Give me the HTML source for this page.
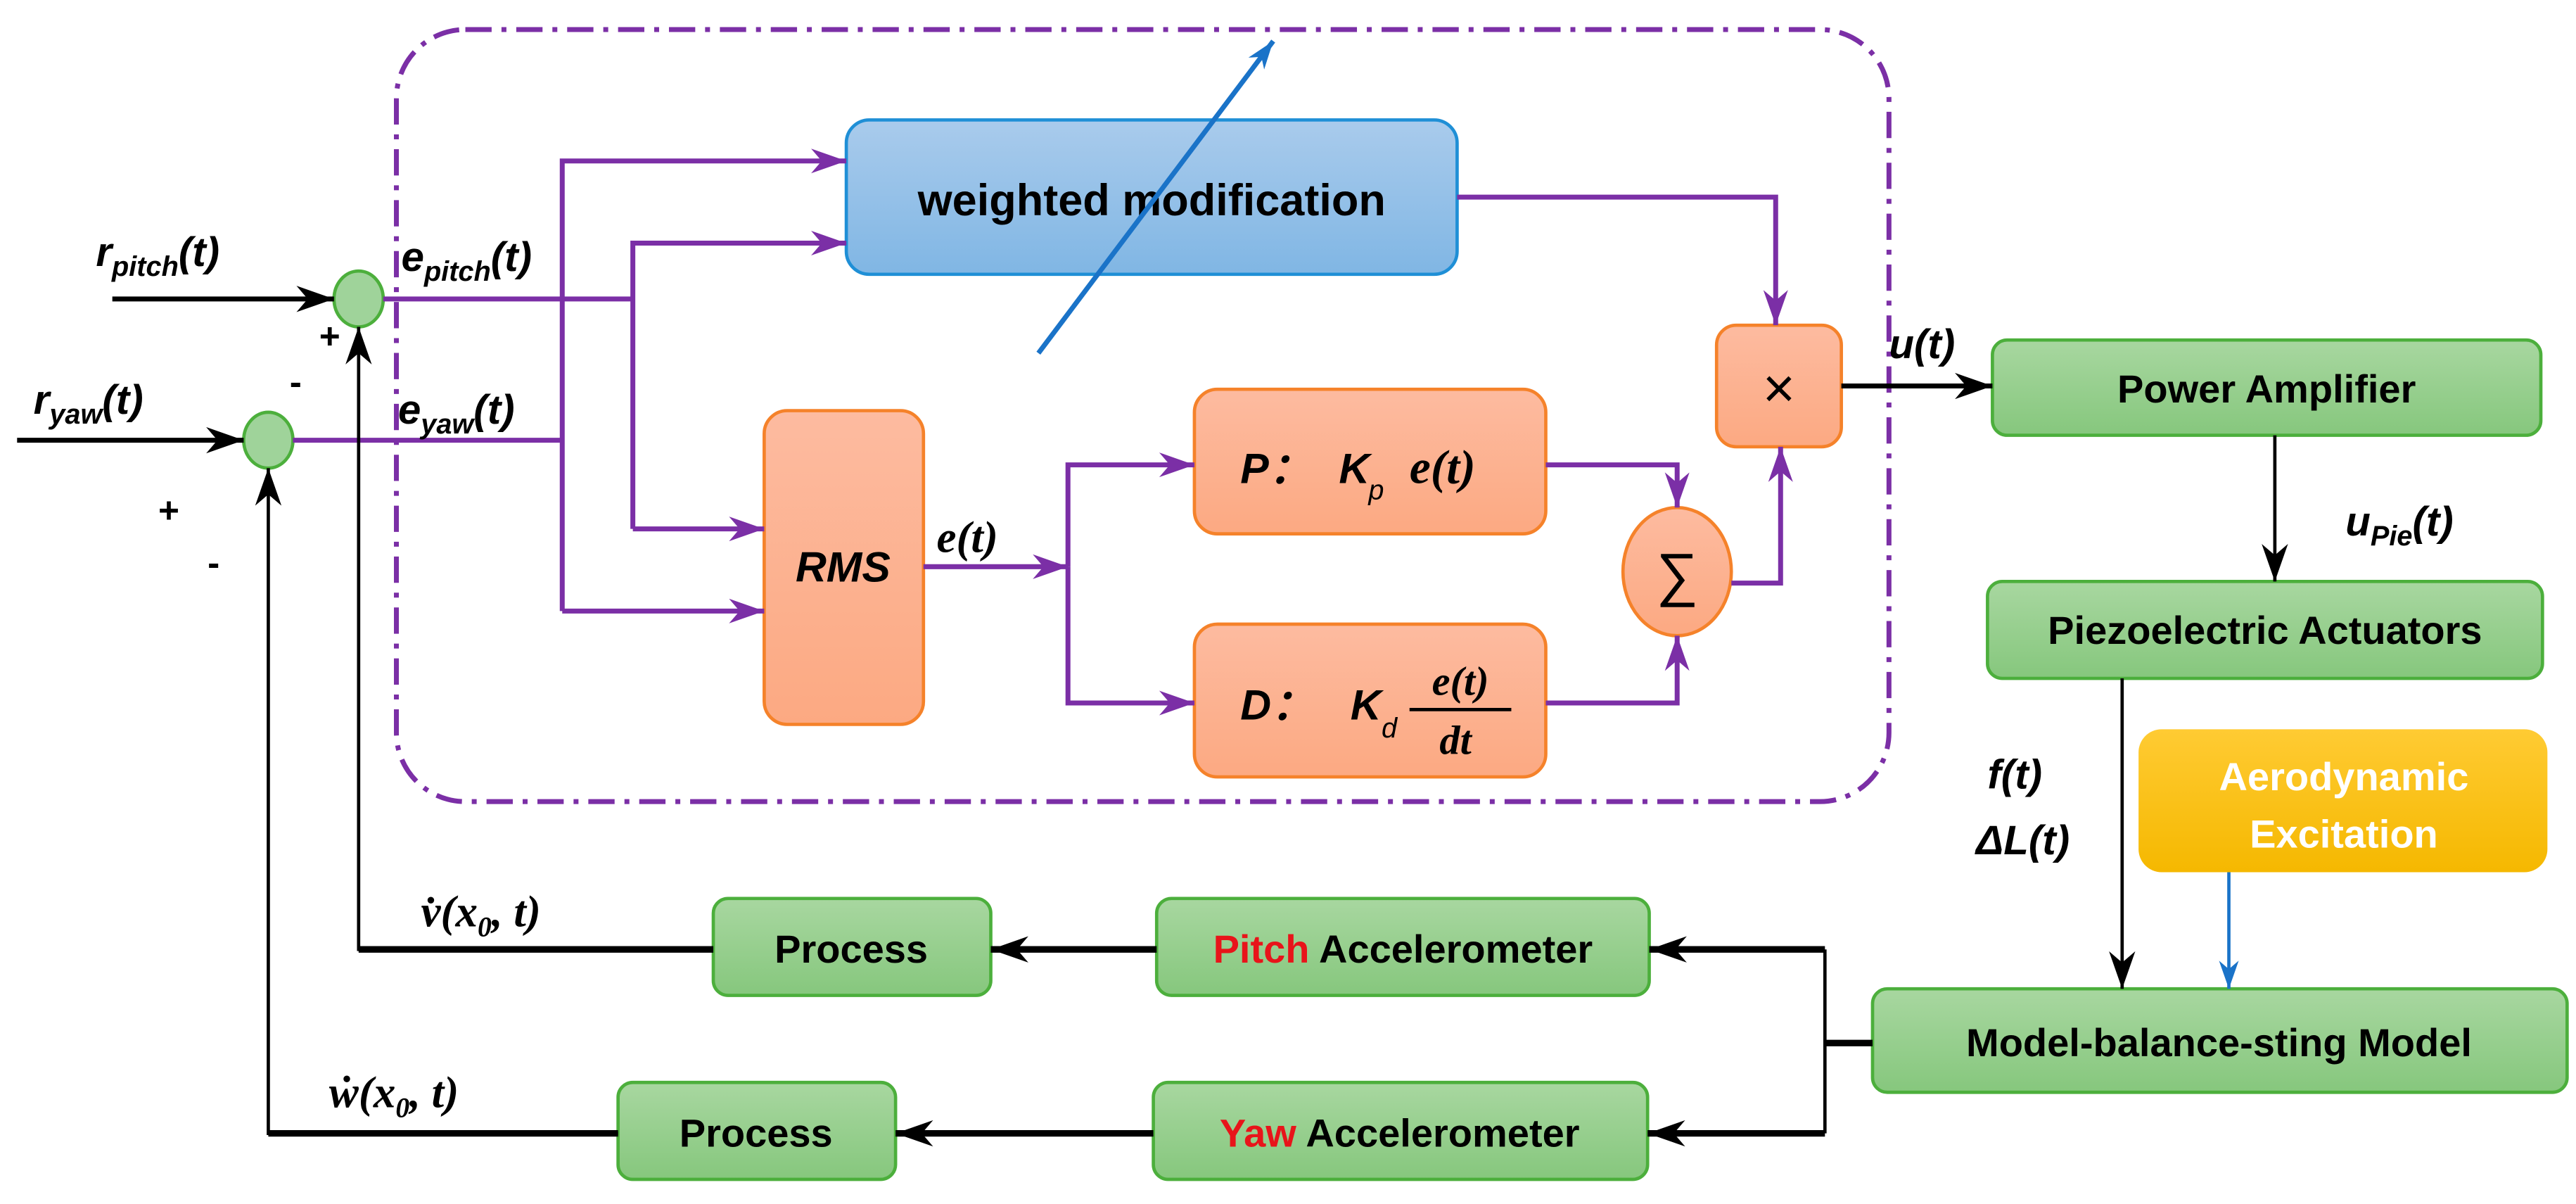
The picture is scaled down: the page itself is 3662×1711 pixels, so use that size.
<!DOCTYPE html>
<html><head><meta charset="utf-8"><style>html,body{margin:0;padding:0;background:#fff}svg{display:block}</style></head>
<body>
<svg width="3662" height="1711" viewBox="0 0 1568 733" xmlns="http://www.w3.org/2000/svg" font-family="'Liberation Sans',sans-serif">
<defs>
<linearGradient id="gb" x1="0" y1="0" x2="0" y2="1"><stop offset="0" stop-color="#a9cbec"/><stop offset="1" stop-color="#80b6e4"/></linearGradient>
<linearGradient id="go" x1="0" y1="0" x2="0" y2="1"><stop offset="0" stop-color="#fdbba0"/><stop offset="1" stop-color="#fca982"/></linearGradient>
<linearGradient id="gg" x1="0" y1="0" x2="0" y2="1"><stop offset="0" stop-color="#a8d7a0"/><stop offset="1" stop-color="#86c77d"/></linearGradient>
<linearGradient id="gy" x1="0" y1="0" x2="0" y2="1"><stop offset="0" stop-color="#ffcb33"/><stop offset="1" stop-color="#f5b800"/></linearGradient>
<marker id="ap" viewBox="0 0 20 14" refX="20" refY="7" markerWidth="22" markerHeight="15" markerUnits="userSpaceOnUse" orient="auto"><path d="M0,0 L20,7 L0,14 L6,7 Z" fill="#7b2fa6"/></marker>
<marker id="ak" viewBox="0 0 20 14" refX="20" refY="7" markerWidth="24" markerHeight="16" markerUnits="userSpaceOnUse" orient="auto"><path d="M0,0 L20,7 L0,14 L6,7 Z" fill="#000"/></marker>
<marker id="ab" viewBox="0 0 20 14" refX="20" refY="7" markerWidth="20" markerHeight="12" markerUnits="userSpaceOnUse" orient="auto"><path d="M0,0 L20,7 L0,14 L6,7 Z" fill="#1a73c8"/></marker>
</defs>

<rect x="241" y="18" width="909" height="470" rx="42" fill="none" stroke="#7b2fa6" stroke-width="3" stroke-dasharray="16,6,3,6"/>

<rect x="515" y="73" width="372" height="94" rx="14" fill="url(#gb)" stroke="#1f8fd6" stroke-width="2"/>
<text x="701" y="131" font-size="27" font-weight="bold" text-anchor="middle">weighted modification</text>

<rect x="465" y="250" width="97" height="191" rx="14" fill="url(#go)" stroke="#f5822a" stroke-width="2"/>
<text x="513" y="354" font-size="26" font-weight="bold" font-style="italic" text-anchor="middle">RMS</text>

<rect x="727" y="237" width="214" height="88" rx="14" fill="url(#go)" stroke="#f5822a" stroke-width="2"/>
<text x="755" y="294" font-size="26" font-weight="bold" font-style="italic">P：</text>
<text x="815" y="294" font-size="26" font-weight="bold" font-style="italic">K</text>
<text x="833" y="304" font-size="17" font-style="italic">p</text>
<text x="858" y="294" font-size="29" font-style="italic" font-family="'Liberation Serif',serif" font-weight="bold">e(t)</text>

<rect x="727" y="380" width="214" height="93" rx="14" fill="url(#go)" stroke="#f5822a" stroke-width="2"/>
<text x="755" y="438" font-size="26" font-weight="bold" font-style="italic">D：</text>
<text x="822" y="438" font-size="26" font-weight="bold" font-style="italic">K</text>
<text x="841" y="449" font-size="17" font-style="italic">d</text>
<text x="889" y="423" font-size="25" font-style="italic" font-family="'Liberation Serif',serif" font-weight="bold" text-anchor="middle">e(t)</text>
<line x1="858" y1="432" x2="920" y2="432" stroke="#000" stroke-width="2"/>
<text x="886" y="459" font-size="25" font-style="italic" font-family="'Liberation Serif',serif" font-weight="bold" text-anchor="middle">dt</text>

<ellipse cx="1021" cy="348" rx="33" ry="39" fill="url(#go)" stroke="#f5822a" stroke-width="2"/>
<text x="1021" y="362" font-size="36" text-anchor="middle">∑</text>

<rect x="1045" y="198" width="76" height="74" rx="12" fill="url(#go)" stroke="#f5822a" stroke-width="2"/>
<text x="1083" y="248" font-size="34" text-anchor="middle">×</text>

<rect x="1213" y="207" width="334" height="58" rx="9" fill="url(#gg)" stroke="#4caf3c" stroke-width="2"/>
<text x="1380" y="245" font-size="24" font-weight="bold" text-anchor="middle">Power Amplifier</text>
<rect x="1210" y="354" width="338" height="59" rx="9" fill="url(#gg)" stroke="#4caf3c" stroke-width="2"/>
<text x="1379" y="392" font-size="24" font-weight="bold" text-anchor="middle">Piezoelectric Actuators</text>
<rect x="1302" y="444" width="249" height="87" rx="14" fill="url(#gy)"/>
<text x="1427" y="481" font-size="24" font-weight="bold" fill="#fff" text-anchor="middle">Aerodynamic</text>
<text x="1427" y="516" font-size="24" font-weight="bold" fill="#fff" text-anchor="middle">Excitation</text>
<rect x="1140" y="602" width="423" height="63" rx="9" fill="url(#gg)" stroke="#4caf3c" stroke-width="2"/>
<text x="1351" y="643" font-size="24" font-weight="bold" text-anchor="middle">Model-balance-sting Model</text>
<rect x="704" y="547" width="300" height="59" rx="9" fill="url(#gg)" stroke="#4caf3c" stroke-width="2"/>
<text x="854" y="586" font-size="24" font-weight="bold" text-anchor="middle"><tspan fill="#e8141a">Pitch</tspan> Accelerometer</text>
<rect x="434" y="547" width="169" height="59" rx="9" fill="url(#gg)" stroke="#4caf3c" stroke-width="2"/>
<text x="518" y="586" font-size="24" font-weight="bold" text-anchor="middle">Process</text>
<rect x="702" y="659" width="301" height="59" rx="9" fill="url(#gg)" stroke="#4caf3c" stroke-width="2"/>
<text x="852" y="698" font-size="24" font-weight="bold" text-anchor="middle"><tspan fill="#e8141a">Yaw</tspan> Accelerometer</text>
<rect x="376" y="659" width="169" height="59" rx="9" fill="url(#gg)" stroke="#4caf3c" stroke-width="2"/>
<text x="460" y="698" font-size="24" font-weight="bold" text-anchor="middle">Process</text>

<ellipse cx="218" cy="182" rx="15" ry="17" fill="#9fd39a" stroke="#4caf3c" stroke-width="2"/>
<ellipse cx="163" cy="268" rx="15" ry="17" fill="#9fd39a" stroke="#4caf3c" stroke-width="2"/>

<g stroke="#7b2fa6" stroke-width="3" fill="none">
<polyline points="233,182 385,182"/>
<polyline points="178,268 342,268"/>
<polyline points="342,372 342,98 515,98" marker-end="url(#ap)"/>
<polyline points="342,372 465,372" marker-end="url(#ap)"/>
<polyline points="385,322 385,148 515,148" marker-end="url(#ap)"/>
<polyline points="385,322 465,322" marker-end="url(#ap)"/>
<polyline points="562,345 650,345" marker-end="url(#ap)"/>
<polyline points="650,345 650,283 727,283" marker-end="url(#ap)"/>
<polyline points="650,345 650,428 727,428" marker-end="url(#ap)"/>
<polyline points="941,283 1021,283 1021,309" marker-end="url(#ap)"/>
<polyline points="941,428 1021,428 1021,387" marker-end="url(#ap)"/>
<polyline points="1054,355 1084,355 1084,272" marker-end="url(#ap)"/>
<polyline points="887,120 1081,120 1081,198" marker-end="url(#ap)"/>
</g>

<line x1="632" y1="215" x2="775" y2="25" stroke="#1a73c8" stroke-width="3" marker-end="url(#ab)"/>

<g stroke="#000" stroke-width="3" fill="none">
<line x1="68" y1="182" x2="203" y2="182" marker-end="url(#ak)"/>
<line x1="10" y1="268" x2="148" y2="268" marker-end="url(#ak)"/>
<line x1="1121" y1="235" x2="1213" y2="235" marker-end="url(#ak)"/>
<line x1="1385" y1="265" x2="1385" y2="354" stroke-width="2" marker-end="url(#ak)"/>
<line x1="1292" y1="413" x2="1292" y2="602" stroke-width="2" marker-end="url(#ak)"/>
<polyline points="1140,635 1111,635" stroke-width="4"/>
<polyline points="1111,690 1111,578" stroke-width="2"/>
<polyline points="1111,578 1004,578" stroke-width="4" marker-end="url(#ak)"/>
<polyline points="1111,690 1003,690" stroke-width="4" marker-end="url(#ak)"/>
<polyline points="704,578 603,578" stroke-width="4" marker-end="url(#ak)"/>
<polyline points="702,690 545,690" stroke-width="4" marker-end="url(#ak)"/>
<polyline points="434,578 218,578 218,199" stroke-width="2" marker-end="url(#ak)"/>
<polyline points="218,578 434,578" stroke-width="4"/>
<polyline points="376,690 163,690 163,285" stroke-width="2" marker-end="url(#ak)"/>
<polyline points="163,690 376,690" stroke-width="4"/>
</g>
<line x1="1357" y1="531" x2="1357" y2="602" stroke="#1a73c8" stroke-width="2" marker-end="url(#ab)"/>

<g font-weight="bold" font-style="italic" font-size="25">
<text x="58" y="162">r<tspan font-size="17" dy="6">pitch</tspan><tspan dy="-6">(t)</tspan></text>
<text x="20" y="252">r<tspan font-size="17" dy="6">yaw</tspan><tspan dy="-6">(t)</tspan></text>
<text x="244" y="165">e<tspan font-size="17" dy="6">pitch</tspan><tspan dy="-6">(t)</tspan></text>
<text x="242" y="258">e<tspan font-size="17" dy="6">yaw</tspan><tspan dy="-6">(t)</tspan></text>
<text x="1150" y="218">u(t)</text>
<text x="1428" y="326">u<tspan font-size="17" dy="6">Pie</tspan><tspan dy="-6">(t)</tspan></text>
<text x="1210" y="480">f(t)</text>
<text x="1203" y="520">ΔL(t)</text>
</g>
<text x="570" y="336" font-size="27" font-style="italic" font-family="'Liberation Serif',serif" font-weight="bold">e(t)</text>
<text x="256" y="564" font-size="27" font-style="italic" font-family="'Liberation Serif',serif" font-weight="bold">v̇(x<tspan font-size="17" dy="6">0</tspan><tspan dy="-6">, t)</tspan></text>
<text x="200" y="674" font-size="27" font-style="italic" font-family="'Liberation Serif',serif" font-weight="bold">ẇ(x<tspan font-size="17" dy="6">0</tspan><tspan dy="-6">, t)</tspan></text>
<g font-size="22" font-weight="bold">
<text x="194" y="212">+</text>
<text x="176" y="240">-</text>
<text x="96" y="318">+</text>
<text x="126" y="350">-</text>
</g>
</svg>
</body></html>
